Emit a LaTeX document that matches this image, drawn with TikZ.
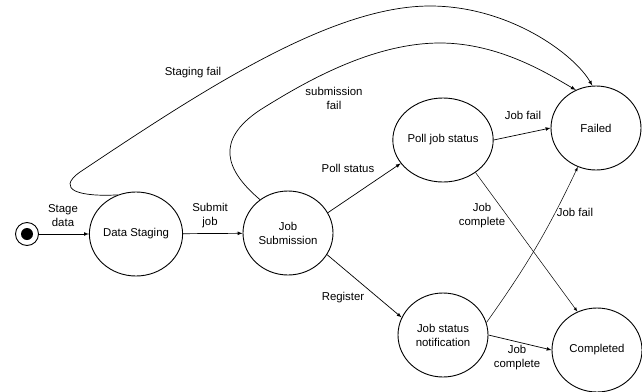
\documentclass[tikz,border=0pt]{standalone}
\usepackage{fontspec}
\setmainfont{Liberation Sans}
\usetikzlibrary{arrows,shapes.geometric,positioning}

\begin{document}
\begin{tikzpicture}[x=1pt,y=-1pt,
    stat/.style={ellipse,draw,line width=0.9pt,minimum width=90pt,minimum height=84pt,inner sep=0pt,align=center},
    lbl/.style={align=center,inner sep=1pt},
    tr/.style={-latex,line width=0.7pt},
    every node/.style={font=\fontsize{11.4}{14}\selectfont}]
    \useasboundingbox (0,0) rectangle (642,391);

    \node[circle,draw,line width=0.9pt,minimum size=23pt,inner sep=0pt] (init) at (27,234) {};
    \node[circle,fill=black,minimum size=12pt,inner sep=0pt] (initdot) at (init) {};

    \node[stat] (ds) at (136,234) {Data Staging};
    \node[stat] (js) at (288,233) {Job\\Submission};
    \node[stat] (poll) at (443,140) {Poll job status};
    \node[stat] (failed) at (596,128) {Failed};
    \node[stat] (jsn) at (443,335) {Job status\\notification};
    \node[stat] (comp) at (597,350) {Completed};

    \draw[tr] (init) -- (ds);
    \draw[tr] (ds) -- (js);
    \draw[tr] (js.27) -- (poll.209);
    \draw[tr] (js.331) -- (jsn.157);
    \draw[tr] (poll.0) -- (failed.180);
    \draw[tr,line width=0.5pt] (poll.315) -- (comp.117);
    \draw[tr,line width=0.5pt] (jsn.16) to[bend right=5] (failed.245);
    \draw[tr] (jsn.0) -- (comp.180);
    \draw[tr] (ds.115) .. controls (80,197) and (55,190) .. (80,172)
        .. controls (200,92) and (330,6) .. (430,6)
        .. controls (510,6) and (575,55) .. (failed.95);
    \draw[tr] (js.130) .. controls (225,170) and (215,140) .. (260,110)
        .. controls (300,85) and (370,43) .. (440,43)
        .. controls (500,43) and (550,75) .. (failed.118);

    \node[lbl] (lstage) at (63,216) {Stage\\data};
    \node[lbl] (lsubmit) at (210,216) {Submit\\job};
    \node[lbl] (lpoll) at (348,168) {Poll status};
    \node[lbl] (lreg) at (343,298) {Register};
    \node[lbl] (lfail1) at (523,115) {Job fail};
    \node[lbl] (lcomp1) at (482,216) {Job\\complete};
    \node[lbl] (lfail2) at (575,212) {Job fail};
    \node[lbl] (lcomp2) at (517,358) {Job\\complete};
    \node[lbl] (lstfail) at (193,73) {Staging fail};
    \node[lbl] (lsubfail) at (334,98) {submission\\fail};
  \end{tikzpicture}
\end{document}
